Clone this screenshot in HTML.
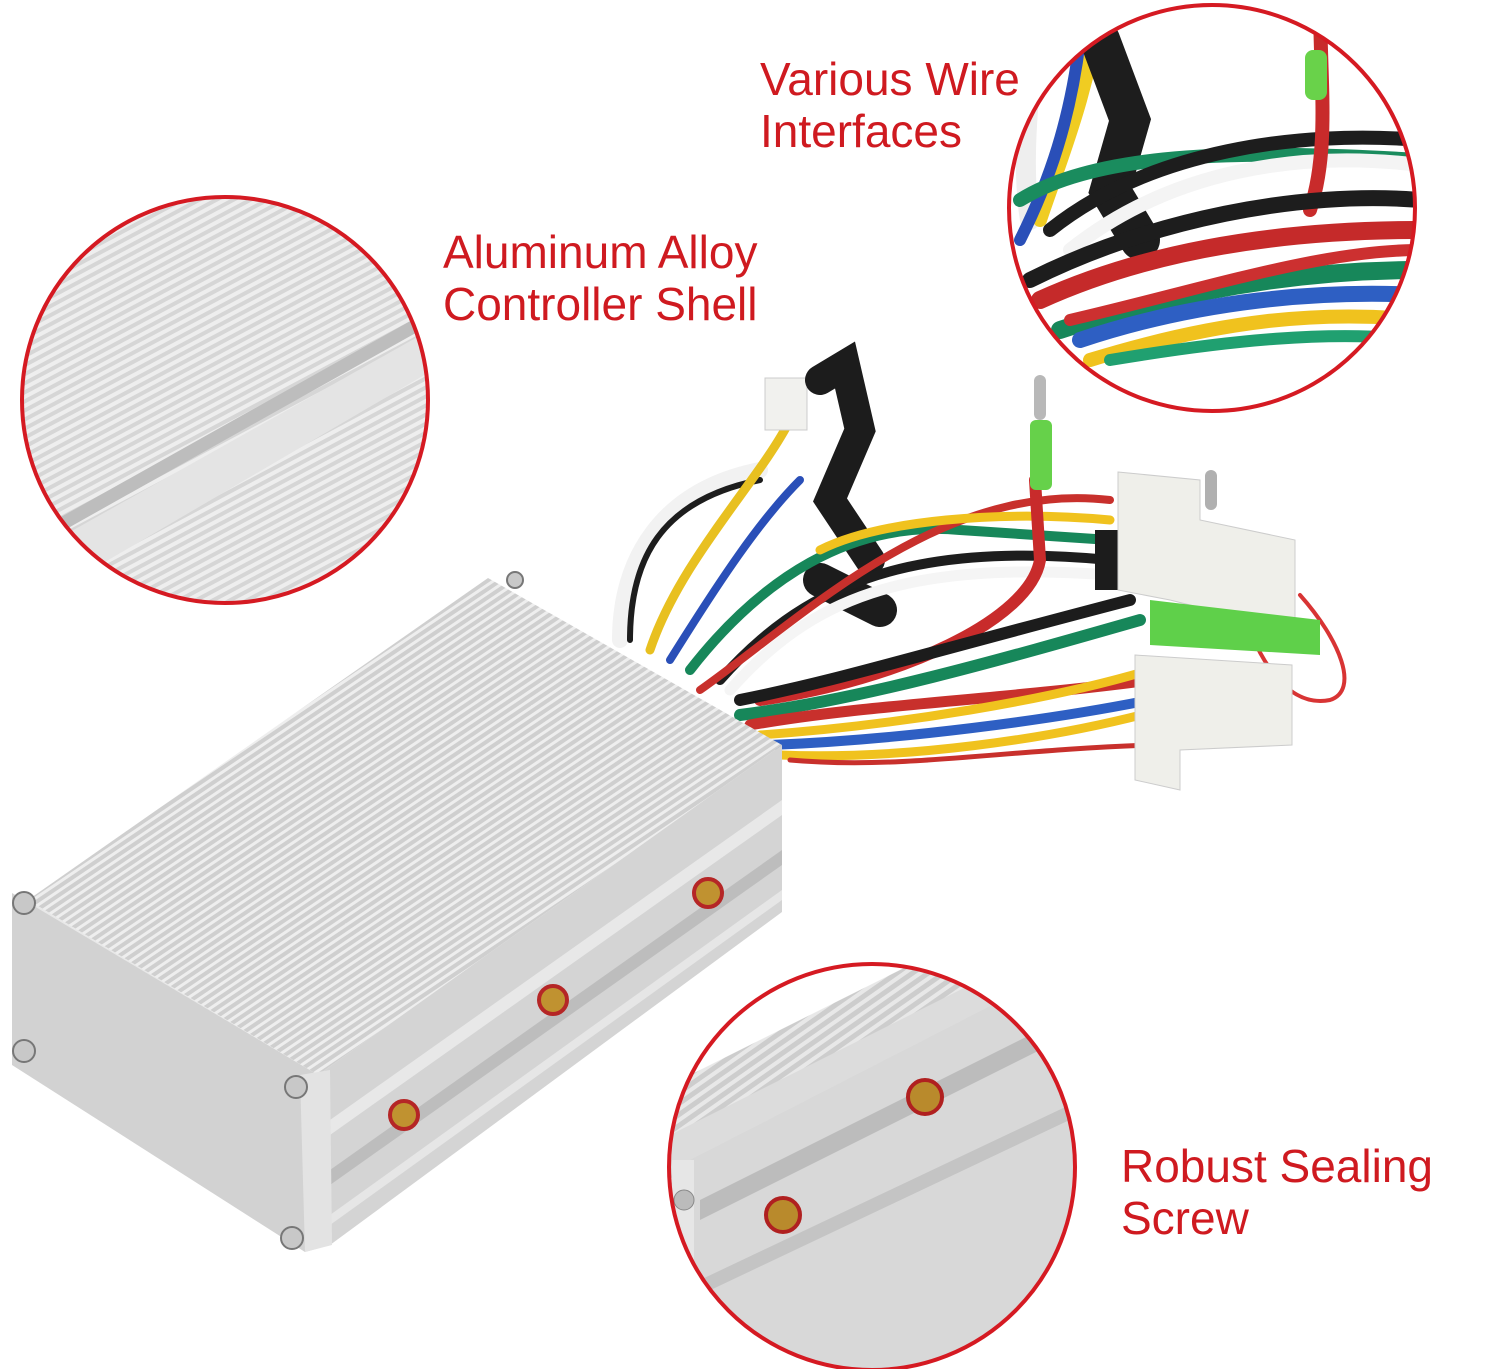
<!DOCTYPE html>
<html><head><meta charset="utf-8"><style>
html,body{margin:0;padding:0;background:#fff;}
svg{display:block}
text{font-family:"Liberation Sans",sans-serif;fill:#cf1a20;font-size:46px;}
</style></head><body>
<svg width="1500" height="1369" viewBox="0 0 1500 1369" xmlns="http://www.w3.org/2000/svg">
<defs>
<pattern id="st1" width="8" height="8" patternUnits="userSpaceOnUse" patternTransform="rotate(-28)">
<rect width="8" height="8" fill="#d6d6d6"/><rect width="8" height="4" fill="#eeeeee"/></pattern>
<pattern id="st2" width="7" height="7" patternUnits="userSpaceOnUse" patternTransform="rotate(-34)">
<rect width="7" height="7" fill="#cfcfcf"/><rect width="7" height="3" fill="#eeeeee"/></pattern>
<pattern id="st3" width="9" height="9" patternUnits="userSpaceOnUse" patternTransform="rotate(-35)">
<rect width="9" height="9" fill="#cdcdcd"/><rect width="9" height="4" fill="#e8e8e8"/></pattern>
<clipPath id="c1"><circle cx="225" cy="400" r="203"/></clipPath>
<clipPath id="c2"><circle cx="1212" cy="208" r="203"/></clipPath>
<clipPath id="c3"><circle cx="872" cy="1167" r="203"/></clipPath>
</defs>

<g clip-path="url(#c1)">
<rect x="0" y="180" width="450" height="450" fill="url(#st1)"/>
<path d="M20 560 L430 330 L450 360 L40 600Z" fill="#e4e4e4"/>
<path d="M20 540 L430 310 L430 325 L20 555Z" fill="#bdbdbd"/>
</g>
<circle cx="225" cy="400" r="203" fill="none" stroke="#d51a22" stroke-width="4"/>

<g clip-path="url(#c2)">
<rect x="1000" y="0" width="430" height="420" fill="#fff"/>
<g fill="none" stroke-linecap="round">
<path d="M1040 0 C1030 80 1020 160 1030 220" stroke="#eee" stroke-width="20"/>
<path d="M1100 0 C1090 90 1060 160 1040 220" stroke="#f0cc22" stroke-width="14"/>
<path d="M1080 40 C1070 120 1050 180 1020 240" stroke="#2a4fb8" stroke-width="12"/>
<path d="M1100 40 L1130 120 L1110 190 L1140 240" stroke="#1d1d1d" stroke-width="40"/>
<path d="M1020 200 C1100 150 1250 150 1420 160" stroke="#1a8c5e" stroke-width="14"/>
<path d="M1050 230 C1150 150 1300 130 1420 140" stroke="#1d1d1d" stroke-width="14"/>
<path d="M1070 250 C1170 170 1300 150 1420 165" stroke="#f4f4f4" stroke-width="14"/>
<path d="M1320 0 C1320 80 1330 150 1310 210" stroke="#c82b2b" stroke-width="14"/>
<path d="M1040 300 C1150 250 1280 230 1420 230" stroke="#c52a2a" stroke-width="18"/>
<path d="M1030 280 C1150 220 1300 190 1420 200" stroke="#1d1d1d" stroke-width="16"/>
<path d="M1060 330 C1180 290 1300 270 1420 270" stroke="#17875a" stroke-width="18"/>
<path d="M1080 340 C1200 300 1320 290 1420 295" stroke="#2e5fc3" stroke-width="16"/>
<path d="M1090 360 C1220 320 1320 310 1420 320" stroke="#f0c21e" stroke-width="14"/>
<path d="M1070 320 C1200 290 1320 250 1420 250" stroke="#cc3030" stroke-width="12"/>
<path d="M1110 360 C1230 340 1330 330 1420 340" stroke="#20a070" stroke-width="12"/>
</g>
<rect x="1305" y="50" width="22" height="50" rx="8" fill="#69d24a"/>
</g>
<circle cx="1212" cy="208" r="203" fill="none" stroke="#d51a22" stroke-width="4"/>

<g clip-path="url(#c3)">
<rect x="660" y="960" width="430" height="420" fill="#fff"/>
<path d="M660 1090 L1080 880 L1080 1260 L660 1380Z" fill="url(#st3)"/>
<path d="M660 1140 L1080 930 L1080 1000 L680 1200Z" fill="#dcdcdc"/>
<path d="M690 1160 L1080 960 L1080 1380 L690 1380Z" fill="#d8d8d8"/>
<path d="M700 1200 L1080 1010 L1080 1030 L700 1220Z" fill="#bcbcbc"/>
<path d="M700 1280 L1080 1100 L1080 1115 L700 1295Z" fill="#c4c4c4"/>
<rect x="672" y="1160" width="22" height="220" fill="#e6e6e6"/>
<circle cx="684" cy="1200" r="10" fill="#bbb" stroke="#888"/>
<circle cx="925" cy="1097" r="17" fill="#b98a2c" stroke="#b02020" stroke-width="4"/>
<circle cx="783" cy="1215" r="17" fill="#b98a2c" stroke="#b02020" stroke-width="4"/>
</g>
<circle cx="872" cy="1167" r="203" fill="none" stroke="#d51a22" stroke-width="4"/>

<text x="760" y="95">Various Wire</text>
<text x="760" y="147">Interfaces</text>
<text x="443" y="268">Aluminum Alloy</text>
<text x="443" y="320">Controller Shell</text>
<text x="1121" y="1182">Robust Sealing</text>
<text x="1121" y="1234">Screw</text>

<g fill="none" stroke-linecap="round">
<path d="M620 640 C620 560 660 490 760 470" stroke="#f2f2f2" stroke-width="16"/>
<path d="M630 640 C630 560 660 500 760 480" stroke="#1d1d1d" stroke-width="6"/>
<path d="M650 650 C680 560 760 480 790 420" stroke="#e8c020" stroke-width="9"/>
<path d="M670 660 C720 580 760 520 800 480" stroke="#2a4fb8" stroke-width="8"/>
<rect x="765" y="378" width="42" height="52" fill="#f1f1ee" stroke="#ccc"/>
<path d="M820 380 L845 365 L860 430 L830 500 L870 560" stroke="#1c1c1c" stroke-width="30"/>
<path d="M820 580 L880 610" stroke="#1c1c1c" stroke-width="34"/>
<path d="M690 670 C760 580 850 520 960 530 L1110 540" stroke="#17875a" stroke-width="10"/>
<path d="M720 680 C800 590 900 540 1110 560" stroke="#1d1d1d" stroke-width="10"/>
<path d="M730 690 C810 600 900 560 1110 575" stroke="#f5f5f5" stroke-width="11"/>
<path d="M700 690 C800 620 940 480 1110 500" stroke="#c8302c" stroke-width="8"/>
<path d="M820 550 C880 520 1000 510 1110 520" stroke="#f0c21e" stroke-width="9"/>
<path d="M1035 480 L1040 560 C1030 620 900 680 760 700" stroke="#c82b2b" stroke-width="12"/>
<path d="M740 700 C840 680 900 660 1130 600" stroke="#1c1c1c" stroke-width="12"/>
<path d="M740 715 C860 700 1000 660 1140 620" stroke="#17875a" stroke-width="12"/>
<path d="M750 725 C860 705 1000 700 1150 680" stroke="#c8302c" stroke-width="11"/>
<path d="M760 735 C900 725 1050 700 1150 670" stroke="#f0c21e" stroke-width="9"/>
<path d="M770 745 C900 740 1050 720 1150 700" stroke="#2e5fc3" stroke-width="10"/>
<path d="M780 755 C900 760 1050 740 1160 710" stroke="#f0c21e" stroke-width="9"/>
<path d="M790 760 C900 770 1000 750 1150 745" stroke="#c8302c" stroke-width="5"/>
<path d="M1300 595 C1340 640 1360 690 1330 700 C1280 710 1250 640 1240 600" stroke="#d83434" stroke-width="4"/>
</g>
<rect x="1034" y="375" width="12" height="45" rx="6" fill="#b8b8b8"/>
<rect x="1030" y="420" width="22" height="70" rx="6" fill="#66d14a"/>
<rect x="1205" y="470" width="12" height="40" rx="6" fill="#b0b0b0"/>
<rect x="1095" y="530" width="30" height="60" fill="#1c1c1c"/>
<path d="M1118 472 L1200 480 L1200 520 L1295 540 L1295 620 L1210 610 L1170 600 L1118 590Z" fill="#efefea" stroke="#ccc"/>
<path d="M1150 600 L1320 620 L1320 655 L1150 645Z" fill="#5fd04a"/>
<path d="M1135 655 L1292 665 L1292 745 L1180 750 L1180 790 L1135 780Z" fill="#efefea" stroke="#ccc"/>

<path d="M28 900 L488 578 L782 745 L318 1075Z" fill="url(#st2)"/>
<path d="M318 1075 L782 745 L782 912 L330 1245Z" fill="#d4d4d4"/>
<path d="M330 1120 L782 800 L782 815 L330 1135Z" fill="#e8e8e8"/>
<path d="M330 1170 L782 850 L782 865 L330 1185Z" fill="#bdbdbd"/>
<path d="M330 1215 L782 890 L782 900 L330 1225Z" fill="#e6e6e6"/>
<path d="M28 900 L318 1075 L322 1090 L35 915Z" fill="#e8e8e8"/>
<path d="M12 893 L318 1075 L330 1245 L305 1252 L12 1065Z" fill="#d2d2d2"/>
<path d="M300 1075 L330 1070 L332 1245 L305 1252Z" fill="#e3e3e3"/>
<g fill="#c8c8c8" stroke="#777" stroke-width="2">
<circle cx="24" cy="903" r="11"/><circle cx="24" cy="1051" r="11"/>
<circle cx="296" cy="1087" r="11"/><circle cx="292" cy="1238" r="11"/>
<circle cx="515" cy="580" r="8"/>
</g>
<g fill="#c09230" stroke="#b52626" stroke-width="4">
<circle cx="708" cy="893" r="14"/><circle cx="553" cy="1000" r="14"/><circle cx="404" cy="1115" r="14"/>
</g>
</svg>
</body></html>
